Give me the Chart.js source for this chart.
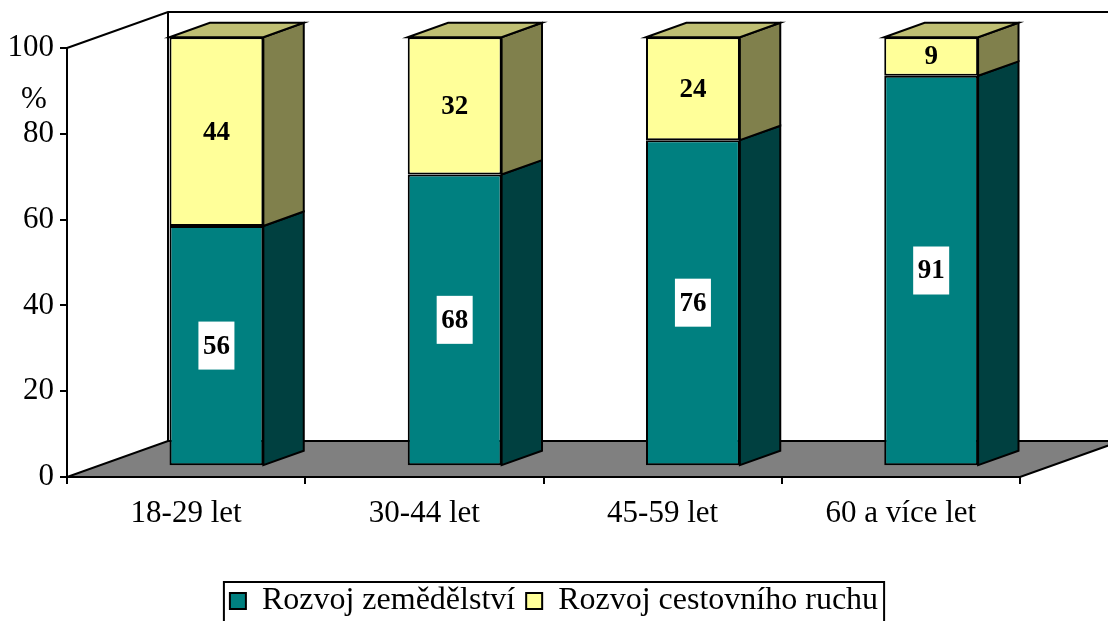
<!DOCTYPE html>
<html>
<head>
<meta charset="utf-8">
<script src="https://cdn.jsdelivr.net/npm/chart.js@4.4.1/dist/chart.umd.min.js"></script>
<style>
  html, body { margin: 0; padding: 0; background: #fff; }
</style>
</head>
<body>
<canvas id="chart" width="1108" height="621"></canvas>
<script>
const categories = ["18-29 let", "30-44 let", "45-59 let", "60 a více let"];
const agriculture = [56, 68, 76, 91];
const tourism = [44, 32, 24, 9];
const seriesNames = ["Rozvoj zemědělství", "Rozvoj cestovního ruchu"];
const yMax = 100;
const yStep = 20;

const FONT = '"Liberation Serif", "Times New Roman", serif';
const frontColors = ["#008080", "#ffff99"];
const sideColors = ["#004040", "#80804c"];
const topColors = ["#006060", "#bfbf73"];

// plot frame (front plane) and the fake 3d depth
const plotTop = 48, plotBottom = 477, plotLeft = 67, plotRight = 1020;
const padBottom = -6;
const depthX = 101, depthY = 36;
const barFront = 0.3, barDepth = 0.4;

const box3d = {
    id: "box3d",
    afterLayout(chart) {
        // legend is centred on the whole page, not just under the plot
        const lg = chart.legend;
        lg.left = 0;
        lg.right = chart.width;
        lg.width = chart.width;
    },
    beforeDatasetsDraw(chart) {
        const { ctx, chartArea: a } = chart;
        ctx.save();
        ctx.lineWidth = 2;
        ctx.strokeStyle = "#000";
        ctx.lineJoin = "miter";

        // floor
        ctx.beginPath();
        ctx.moveTo(a.left, a.bottom);
        ctx.lineTo(a.right, a.bottom);
        ctx.lineTo(a.right + depthX, a.bottom - depthY);
        ctx.lineTo(a.left + depthX, a.bottom - depthY);
        ctx.closePath();
        ctx.fillStyle = "#808080";
        ctx.fill();
        ctx.stroke();

        // side and back wall edges
        ctx.beginPath();
        ctx.moveTo(a.left, a.top);
        ctx.lineTo(a.left + depthX, a.top - depthY);
        ctx.lineTo(a.right + depthX, a.top - depthY);
        ctx.moveTo(a.left + depthX, a.top - depthY);
        ctx.lineTo(a.left + depthX, a.bottom - depthY);
        ctx.stroke();
        ctx.restore();

        // bars stand in the middle of the depth
        ctx.save();
        ctx.translate(depthX * barFront, -depthY * barFront);
    },
    afterDatasetsDraw(chart) {
        const ctx = chart.ctx;
        const dx = depthX * barDepth, dy = depthY * barDepth;
        const last = chart.data.datasets.length - 1;

        ctx.lineWidth = 2;
        ctx.strokeStyle = "#000";
        chart.data.datasets.forEach((ds, di) => {
            chart.getDatasetMeta(di).data.forEach((bar) => {
                const { x, y, base, width } = bar.getProps(["x", "y", "base", "width"], true);
                const l = x - width / 2, r = x + width / 2;

                ctx.beginPath();
                ctx.moveTo(r, y);
                ctx.lineTo(r + dx, y - dy);
                ctx.lineTo(r + dx, base - dy);
                ctx.lineTo(r, base);
                ctx.closePath();
                ctx.fillStyle = sideColors[di];
                ctx.fill();
                ctx.stroke();

                if (di === last) {
                    ctx.beginPath();
                    ctx.moveTo(l, y);
                    ctx.lineTo(l + dx, y - dy);
                    ctx.lineTo(r + dx, y - dy);
                    ctx.lineTo(r, y);
                    ctx.closePath();
                    ctx.fillStyle = topColors[di];
                    ctx.fill();
                    ctx.stroke();
                }
            });
        });

        // value labels
        ctx.font = "bold 27px " + FONT;
        ctx.textAlign = "center";
        ctx.textBaseline = "middle";
        chart.data.datasets.forEach((ds, di) => {
            chart.getDatasetMeta(di).data.forEach((bar, i) => {
                const { x, y, base } = bar.getProps(["x", "y", "base"], true);
                const cy = (y + base) / 2;
                const txt = String(ds.data[i]);
                if (di === 0) {
                    const w = ctx.measureText(txt).width + 9;
                    ctx.fillStyle = "#fff";
                    ctx.fillRect(x - w / 2, cy - 24, w, 48);
                }
                ctx.fillStyle = "#000";
                ctx.fillText(txt, x, cy + 1);
            });
        });
        ctx.restore();
    },
    afterDraw(chart) {
        const ctx = chart.ctx;
        const yScale = chart.scales.y;
        ctx.save();
        ctx.font = "31px " + FONT;
        ctx.fillStyle = "#000";
        ctx.textAlign = "center";
        ctx.textBaseline = "middle";
        ctx.fillText("%", 34, yScale.getPixelForValue(88));

        // frame round the legend
        const hb = chart.legend.legendHitBoxes;
        if (hb && hb.length) {
            const first = hb[0], end = hb[hb.length - 1];
            const left = first.left - 6;
            const right = end.left + end.width + 6;
            const top = first.top - 3;
            ctx.lineWidth = 2;
            ctx.strokeStyle = "#000";
            ctx.strokeRect(left, top, right - left, chart.height - top + 10);
        }
        ctx.restore();
    }
};

new Chart(document.getElementById("chart").getContext("2d"), {
    type: "bar",
    data: {
        labels: categories,
        datasets: [
            {
                label: seriesNames[0],
                data: agriculture,
                backgroundColor: frontColors[0],
                borderColor: "#000",
                borderWidth: 2,
                borderSkipped: false,
                clip: false
            },
            {
                label: seriesNames[1],
                data: tourism,
                backgroundColor: frontColors[1],
                borderColor: "#000",
                borderWidth: 2,
                borderSkipped: false,
                clip: false
            }
        ]
    },
    options: {
        responsive: false,
        animation: false,
        devicePixelRatio: 1,
        categoryPercentage: 1,
        barPercentage: 0.394,
        layout: { padding: { top: plotTop, right: 1108 - plotRight, left: 0, bottom: padBottom } },
        plugins: {
            legend: {
                position: "bottom",
                labels: {
                    color: "#000",
                    font: { family: FONT, size: 32 },
                    boxWidth: 16,
                    boxHeight: 16,
                    padding: 11
                }
            },
            tooltip: { enabled: false }
        },
        scales: {
            x: {
                stacked: true,
                afterFit(scale) {
                    scale.height = scale.chart.height - plotBottom - scale.chart.legend.height - padBottom;
                },
                grid: { display: true, drawOnChartArea: false, offset: true, tickLength: 7, color: "#000", lineWidth: 2 },
                border: { display: true, color: "#000", width: 2 },
                ticks: { color: "#000", font: { family: FONT, size: 31 }, padding: 11, maxRotation: 0 }
            },
            y: {
                stacked: true,
                min: 0,
                max: yMax,
                afterFit(scale) { scale.width = plotLeft; },
                grid: { display: true, drawOnChartArea: false, tickLength: 7, color: "#000", lineWidth: 2 },
                border: { display: true, color: "#000", width: 2 },
                ticks: { stepSize: yStep, color: "#000", font: { family: FONT, size: 31 }, padding: 6 }
            }
        }
    },
    plugins: [box3d]
});
</script>
</body>
</html>
